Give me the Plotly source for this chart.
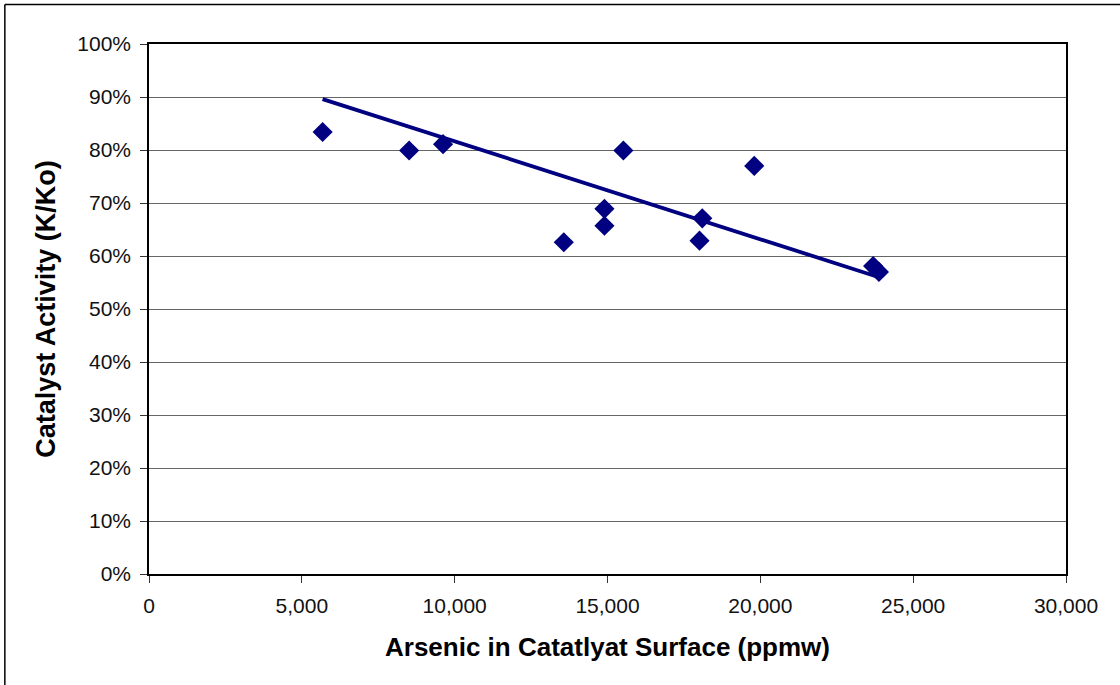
import plotly.graph_objects as go

arsenic_ppmw = [5680, 8510, 9620, 15520, 19800, 14900, 14900, 13570, 18100, 18010, 23690, 23880]
activity = [0.834, 0.799, 0.811, 0.799, 0.770, 0.689, 0.657, 0.626, 0.671, 0.629, 0.581, 0.570]

# linear trendline as drawn in the reference (end points)
trend_x = [5680, 23880]
trend_y = [0.896, 0.560]

x_ticks = [0, 5000, 10000, 15000, 20000, 25000, 30000]
x_tick_labels = ["0", "5,000", "10,000", "15,000", "20,000", "25,000", "30,000"]
y_ticks = [i / 10 for i in range(11)]
y_tick_labels = [f"{i*10}%" for i in range(11)]

W, H = 1120, 685
L, R, T, B = 148.7, 54, 44, 111.3
pw, ph = W - L - R, H - T - B

fig = go.Figure()
fig.add_trace(go.Scatter(
    x=trend_x, y=trend_y, mode="lines",
    line=dict(color="#000080", width=3.8),
    showlegend=False,
))
fig.add_trace(go.Scatter(
    x=arsenic_ppmw, y=activity, mode="markers",
    marker=dict(symbol="diamond", size=15.5, color="#000080", line=dict(width=0)),
    showlegend=False, cliponaxis=False,
))

font_family = "Liberation Sans, Arial, sans-serif"
fig.update_layout(
    width=W, height=H,
    margin=dict(l=L, r=R, t=T, b=B, pad=0),
    paper_bgcolor="white", plot_bgcolor="white",
    font=dict(family=font_family, color="black", size=21),
    xaxis=dict(
        range=[0, 30000], tickvals=x_ticks, ticktext=x_tick_labels,
        showgrid=False, zeroline=False,
        showline=True, linecolor="black", linewidth=1.5, mirror=True,
        ticks="outside", ticklen=7, tickcolor="#333", tickwidth=1,
        ticklabelstandoff=5,
        tickfont=dict(size=21, color="#111"),
        title=dict(text="<b>Arsenic in Catatlyat Surface (ppmw)</b>",
                   font=dict(size=26, color="black"), standoff=22),
    ),
    yaxis=dict(
        range=[0, 1], tickvals=y_ticks, ticktext=y_tick_labels,
        showgrid=True, gridcolor="#666", gridwidth=1,
        zeroline=False,
        showline=True, linecolor="black", linewidth=1.5, mirror=True,
        ticks="outside", ticklen=7, tickcolor="#333", tickwidth=1,
        ticklabelstandoff=5,
        tickfont=dict(size=21, color="#111"),
        title=dict(text="<b>Catalyst Activity (K/Ko)</b>",
                   font=dict(size=27, color="black"), standoff=14),
    ),
)

# outer chart-area border (left and top edges visible)
x_left = (4.5 - L) / pw
y_top = (H - B - 4.5) / ph
fig.add_shape(type="line", xref="paper", yref="paper",
              x0=x_left, x1=x_left, y0=y_top, y1=-1,
              line=dict(color="black", width=1.5))
fig.add_shape(type="line", xref="paper", yref="paper",
              x0=x_left, x1=2, y0=y_top, y1=y_top,
              line=dict(color="black", width=1.5))

fig.write_html("out.html")
